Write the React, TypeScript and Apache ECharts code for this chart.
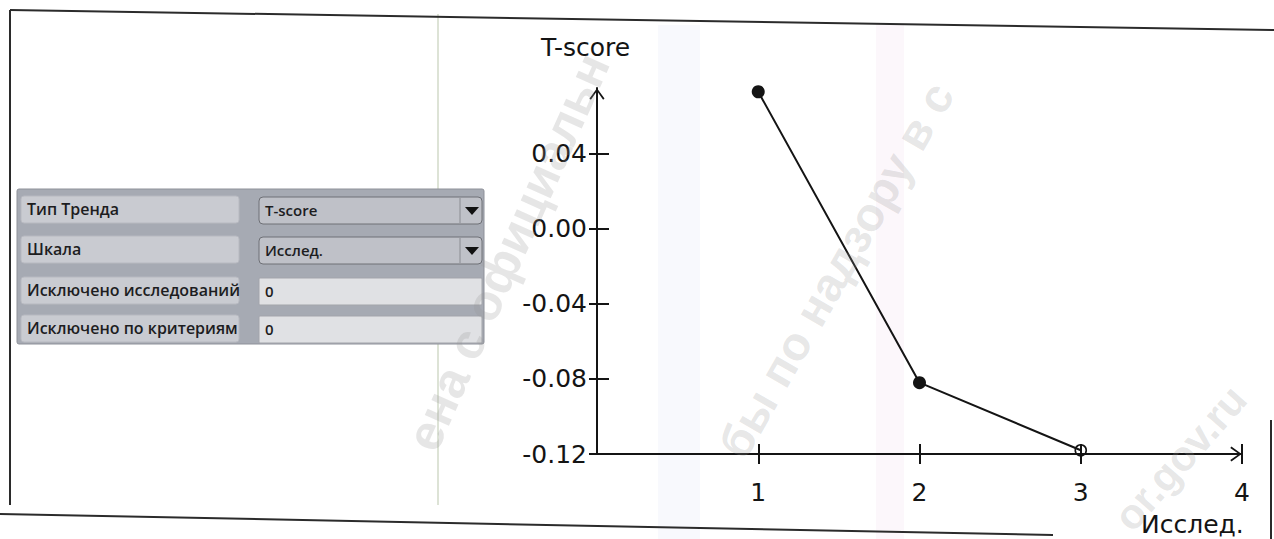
import React, { useEffect, useRef } from "react";
import * as echarts from "echarts";

// ---- data ----
const studyNumbers = [1, 2, 3];
const tScoreValues = [0.073, -0.082, -0.118];
const pointHollow = [false, false, true];
const yTickValues = [-0.12, -0.08, -0.04, 0, 0.04];
const xTickValues = [1, 2, 3, 4];
const xLabelValues = [1, 2, 3, 4];
const yAxisTitle = "T-score";
const xAxisTitle = "Исслед.";
const panelLabels = ["Тип Тренда", "Шкала", "Исключено исследований", "Исключено по критериям"];
const panelValues = ["T-score", "Исслед.", "0", "0"];
const panelIsDropdown = [true, true, false, false];
const watermarkLines = ["ена с официальн", "бы по надзору в с", "or.gov.ru"];

const FONT = "'DejaVu Sans', sans-serif";
const WM_FONT = "'Liberation Sans', Arial, sans-serif";
const PANEL_FONT = "'Open Sans', 'Noto Sans', sans-serif";
const ARROW = "path://M8,0 L16,11 L14.5,12.2 L8,3 L1.5,12.2 L0,11 Z";
const INK = "#141414";

function buildPanel(): any[] {
  const els: any[] = [];
  els.push({
    type: "rect",
    shape: { x: 17, y: 189, width: 467, height: 155, r: 2 },
    style: { fill: "#a6aab3", stroke: "#8e9199", lineWidth: 1 },
    z: 1,
  });
  const rowTops = [196, 236, 277, 315];
  panelLabels.forEach((label, i) => {
    const top = rowTops[i];
    els.push({
      type: "rect",
      shape: { x: 21, y: top, width: 218, height: 27, r: 3 },
      style: { fill: "#c9cbd1", stroke: "#b7b9c0", lineWidth: 1 },
      z: 2,
    });
    els.push({
      type: "text",
      x: 27,
      y: top + 13,
      style: {
        text: label,
        fontSize: 16,
        fontWeight: 600,
        fontFamily: PANEL_FONT,
        fill: "#1d1d1f",
        verticalAlign: "middle",
      },
      z: 3,
    });
    const drop = panelIsDropdown[i];
    els.push({
      type: "rect",
      shape: { x: 259, y: top + 1, width: 223, height: 27, r: drop ? 4 : 1 },
      style: {
        fill: drop ? "#bfc1c8" : "#e0e1e4",
        stroke: drop ? "#6e7076" : "#a3a5ab",
        lineWidth: 1,
      },
      z: 2,
    });
    els.push({
      type: "text",
      x: 265,
      y: top + 14,
      style: {
        text: panelValues[i],
        fontSize: 15,
        fontWeight: 600,
        fontFamily: PANEL_FONT,
        fill: "#1d1d1f",
        verticalAlign: "middle",
      },
      z: 3,
    });
    if (drop) {
      els.push({
        type: "line",
        shape: { x1: 460, y1: top + 2, x2: 460, y2: top + 27 },
        style: { stroke: "#8a8c92", lineWidth: 1 },
        z: 3,
      });
      els.push({
        type: "polygon",
        shape: {
          points: [
            [465, top + 11],
            [479, top + 11],
            [472, top + 19],
          ],
        },
        style: { fill: "#111" },
        z: 3,
      });
    }
  });
  return els;
}

function buildDecor(): any[] {
  const els: any[] = [];
  // faint scan colour bands
  els.push({
    type: "rect",
    shape: { x: 658, y: 25, width: 42, height: 514 },
    style: { fill: "rgba(214,222,246,0.18)" },
    z: 0,
  });
  els.push({
    type: "rect",
    shape: { x: 876, y: 25, width: 28, height: 514 },
    style: { fill: "rgba(240,214,236,0.2)" },
    z: 0,
  });
  // faint vertical line
  els.push({
    type: "line",
    shape: { x1: 438, y1: 14, x2: 438, y2: 505 },
    style: { stroke: "#dde3d6", lineWidth: 2 },
    z: 0,
  });
  // frame lines
  els.push({
    type: "line",
    shape: { x1: 10, y1: 10, x2: 1274, y2: 30 },
    style: { stroke: "#2b2b2b", lineWidth: 2 },
    z: 4,
  });
  els.push({
    type: "line",
    shape: { x1: 10, y1: 10, x2: 10, y2: 505 },
    style: { stroke: "#2b2b2b", lineWidth: 2 },
    z: 4,
  });
  els.push({
    type: "line",
    shape: { x1: 0, y1: 514, x2: 1053, y2: 535 },
    style: { stroke: "#2b2b2b", lineWidth: 2 },
    z: 4,
  });
  els.push({
    type: "line",
    shape: { x1: 1271, y1: 420, x2: 1271, y2: 539 },
    style: { stroke: "#2b2b2b", lineWidth: 2 },
    z: 4,
  });
  // axis titles
  els.push({
    type: "text",
    x: 541,
    y: 47,
    style: { text: yAxisTitle, fontSize: 25, fontFamily: FONT, fill: INK, verticalAlign: "middle" },
    z: 5,
  });
  els.push({
    type: "text",
    x: 1141,
    y: 524,
    style: { text: xAxisTitle, fontSize: 25, fontFamily: FONT, fill: INK, verticalAlign: "middle" },
    z: 5,
  });
  // watermark
  const wm = [
    { x: 508, y: 252, rot: 1.15, size: 50 },
    { x: 836, y: 270, rot: 1.05, size: 47 },
    { x: 1180, y: 458, rot: 0.85, size: 42 },
  ];
  watermarkLines.forEach((t, i) => {
    const p = wm[i];
    els.push({
      type: "text",
      x: p.x,
      y: p.y,
      rotation: p.rot,
      style: {
        text: t,
        fontSize: p.size,
        fontWeight: "bold",
        fontFamily: WM_FONT,
        fill: "rgba(150,150,150,0.24)",
        align: "center",
        verticalAlign: "middle",
      },
      z: 50,
    });
  });
  return els;
}

export default function App() {
  const ref = useRef<HTMLDivElement>(null);
  useEffect(() => {
    if (!ref.current) return;
    const chart = echarts.init(ref.current, null, { renderer: "svg" });
    const tickStyle = { color: INK, width: 2 };
    const option: any = {
      animation: false,
      backgroundColor: "#ffffff",
      grid: { left: 597, right: 32, top: 88, bottom: 85 },
      xAxis: [
        {
          type: "value",
          min: 0,
          max: 4,
          position: "bottom",
          axisLine: {
            show: true,
            onZero: false,
            symbol: ["none", ARROW],
            symbolSize: [15, 12],
            symbolOffset: [0, -6],
            lineStyle: { color: INK, width: 2 },
          },
          axisTick: { show: true, length: 10, customValues: xTickValues, lineStyle: tickStyle },
          axisLabel: {
            customValues: xLabelValues,
            color: INK,
            fontSize: 25,
            fontFamily: FONT,
            margin: 26,
          },
          splitLine: { show: false },
        },
        {
          type: "value",
          min: 0,
          max: 4,
          position: "bottom",
          axisLine: { show: false, onZero: false },
          axisTick: { show: true, inside: true, length: 10, customValues: xTickValues, lineStyle: tickStyle },
          axisLabel: { show: false },
          splitLine: { show: false },
        },
      ],
      yAxis: [
        {
          type: "value",
          min: -0.12,
          max: 0.075,
          position: "left",
          axisLine: {
            show: true,
            onZero: false,
            symbol: ["none", ARROW],
            symbolSize: [15, 12],
            symbolOffset: [0, -6],
            lineStyle: { color: INK, width: 2 },
          },
          axisTick: { show: true, length: 8, customValues: yTickValues, lineStyle: tickStyle },
          axisLabel: {
            customValues: yTickValues,
            formatter: (v: number) => v.toFixed(2),
            color: INK,
            fontSize: 25,
            fontFamily: FONT,
            margin: 10,
          },
          splitLine: { show: false },
        },
        {
          type: "value",
          min: -0.12,
          max: 0.075,
          position: "left",
          axisLine: { show: false, onZero: false },
          axisTick: { show: true, inside: true, length: 12, customValues: yTickValues, lineStyle: tickStyle },
          axisLabel: { show: false },
          splitLine: { show: false },
        },
      ],
      series: [
        {
          type: "line",
          xAxisIndex: 0,
          yAxisIndex: 0,
          clip: false,
          symbol: "circle",
          showAllSymbol: true,
          lineStyle: { color: INK, width: 2 },
          itemStyle: { color: INK },
          z: 5,
          data: studyNumbers.map((s, i) => ({
            value: [s, tScoreValues[i]],
            symbolSize: pointHollow[i] ? 11 : 13,
            itemStyle: pointHollow[i]
              ? { color: "rgba(255,255,255,0)", borderColor: INK, borderWidth: 1.6 }
              : { color: INK, borderWidth: 0 },
          })),
        },
      ],
      graphic: { elements: [...buildDecor(), ...buildPanel()] },
    };
    chart.setOption(option);
    return () => chart.dispose();
  }, []);
  return (
    <div
      ref={ref}
      style={{ position: "absolute", left: 0, top: 0, width: 1274, height: 539 }}
    />
  );
}
